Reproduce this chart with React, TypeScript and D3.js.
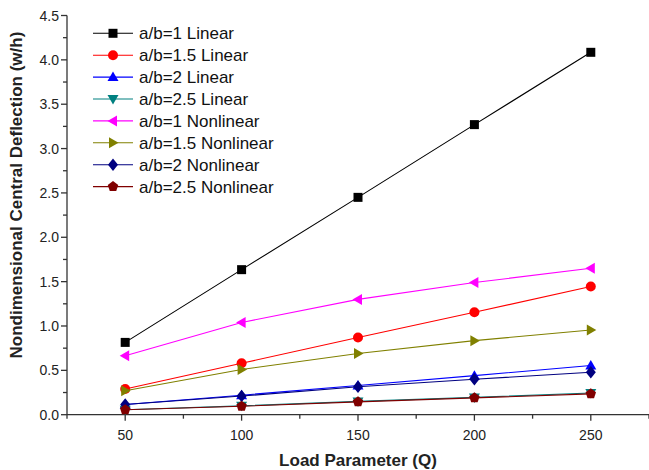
import React, { useEffect, useRef } from "react";
import * as d3 from "d3";

const loads = [50, 100, 150, 200, 250];
const seriesNames = [
  "a/b=1 Linear",
  "a/b=1.5 Linear",
  "a/b=2 Linear",
  "a/b=2.5 Linear",
  "a/b=1 Nonlinear",
  "a/b=1.5 Nonlinear",
  "a/b=2 Nonlinear",
  "a/b=2.5 Nonlinear",
];
const ab1Linear = [0.815, 1.635, 2.45, 3.27, 4.085];
const ab15Linear = [0.29, 0.58, 0.87, 1.155, 1.445];
const ab2Linear = [0.115, 0.22, 0.33, 0.44, 0.555];
const ab25Linear = [0.055, 0.1, 0.15, 0.195, 0.245];
const ab1Nonlinear = [0.665, 1.04, 1.3, 1.49, 1.65];
const ab15Nonlinear = [0.27, 0.51, 0.69, 0.835, 0.955];
const ab2Nonlinear = [0.115, 0.21, 0.315, 0.4, 0.478];
const ab25Nonlinear = [0.055, 0.095, 0.145, 0.19, 0.235];
const colors = ["#000000", "#ff0000", "#0000ff", "#008080", "#ff00ff", "#808000", "#000080", "#800000"];
const markers = ["square", "circle", "up", "down", "left", "right", "diamond", "pentagon"];
const yTicks = [0, 0.5, 1, 1.5, 2, 2.5, 3, 3.5, 4, 4.5];

function markerPath(kind: string, s: number): string {
  const poly = (pts: number[][]) => "M" + pts.map((p) => p.join(",")).join("L") + "Z";
  switch (kind) {
    case "square":
      return poly([[-s * 0.9, -s * 0.9], [s * 0.9, -s * 0.9], [s * 0.9, s * 0.9], [-s * 0.9, s * 0.9]]);
    case "circle":
      return d3.symbol(d3.symbolCircle, Math.PI * s * s)()!;
    case "up":
      return poly([[0, -s * 1.1], [s * 1.1, s * 0.8], [-s * 1.1, s * 0.8]]);
    case "down":
      return poly([[0, s * 1.1], [s * 1.1, -s * 0.8], [-s * 1.1, -s * 0.8]]);
    case "left":
      return poly([[-s * 1.1, 0], [s * 0.8, -s * 1.1], [s * 0.8, s * 1.1]]);
    case "right":
      return poly([[s * 1.1, 0], [-s * 0.8, -s * 1.1], [-s * 0.8, s * 1.1]]);
    case "diamond":
      return poly([[0, -s * 1.25], [s * 1.0, 0], [0, s * 1.25], [-s * 1.0, 0]]);
    default: {
      const pts = d3.range(5).map((i) => {
        const a = -Math.PI / 2 + (i * 2 * Math.PI) / 5;
        return [s * 1.1 * Math.cos(a), s * 1.1 * Math.sin(a)];
      });
      return poly(pts);
    }
  }
}

export default function App() {
  const ref = useRef<SVGSVGElement>(null);

  useEffect(() => {
    const svg = d3.select(ref.current);
    svg.selectAll("*").remove();

    const width = 649;
    const height = 470;
    const margin = { top: 15.5, right: 0, bottom: 55.3, left: 67 };
    const font = "Arial, 'Liberation Sans', sans-serif";

    const x = d3.scaleLinear().domain([25, 275]).range([margin.left, width - margin.right]);
    const y = d3.scaleLinear().domain([0, 4.5]).range([height - margin.bottom, margin.top]);

    const allSeries = [ab1Linear, ab15Linear, ab2Linear, ab25Linear, ab1Nonlinear, ab15Nonlinear, ab2Nonlinear, ab25Nonlinear];

    // axes
    const xAxis = svg.append("g").attr("transform", `translate(0,${y(0)})`);
    xAxis.append("line").attr("x1", x(25)).attr("x2", x(275)).attr("stroke", "#333").attr("stroke-width", 1.3);
    d3.range(25, 276, 25).forEach((v) => {
      const major = v % 50 === 0;
      xAxis.append("line").attr("x1", x(v)).attr("x2", x(v)).attr("y1", 0).attr("y2", major ? 6 : 4)
        .attr("stroke", "#333").attr("stroke-width", 1.3);
    });
    loads.forEach((v) => {
      xAxis.append("text").attr("x", x(v)).attr("y", 25).attr("text-anchor", "middle")
        .attr("font-family", font).attr("font-size", 14).attr("fill", "#222").text(v);
    });

    const yAxis = svg.append("g").attr("transform", `translate(${x(25)},0)`);
    yAxis.append("line").attr("y1", y(0)).attr("y2", y(4.5)).attr("stroke", "#333").attr("stroke-width", 1.3);
    d3.range(0, 4.51, 0.25).forEach((v) => {
      const major = Math.abs(v * 2 - Math.round(v * 2)) < 1e-6;
      yAxis.append("line").attr("x1", 0).attr("x2", major ? -6 : -4).attr("y1", y(v)).attr("y2", y(v))
        .attr("stroke", "#333").attr("stroke-width", 1.3);
    });
    yTicks.forEach((v) => {
      yAxis.append("text").attr("x", -8).attr("y", y(v)).attr("dy", "0.36em").attr("text-anchor", "end")
        .attr("font-family", font).attr("font-size", 14).attr("fill", "#222").text(v.toFixed(1));
    });

    svg.append("text").attr("x", (x(25) + x(275)) / 2).attr("y", 466).attr("text-anchor", "middle")
      .attr("font-family", font).attr("font-size", 17).attr("font-weight", "bold").attr("fill", "#222")
      .text("Load Parameter (Q)");
    svg.append("text").attr("transform", `translate(22,${(y(0) + y(4.5)) / 2 - 20}) rotate(-90)`)
      .attr("text-anchor", "middle").attr("font-family", font).attr("font-size", 17)
      .attr("font-weight", "bold").attr("fill", "#222")
      .text("Nondimensional Central Deflection (w/h)");

    const line = d3.line<number>().x((_, i) => x(loads[i])).y((d) => y(d));

    allSeries.forEach((vals, k) => {
      const g = svg.append("g");
      g.append("path").attr("d", line(vals)).attr("fill", "none").attr("stroke", colors[k]).attr("stroke-width", 1.1);
      g.selectAll("path.m").data(vals).join("path").attr("class", "m")
        .attr("transform", (d, i) => `translate(${x(loads[i])},${y(d)})`)
        .attr("d", markerPath(markers[k], 5)).attr("fill", colors[k]);
    });

    // legend
    const lg = svg.append("g");
    seriesNames.forEach((name, k) => {
      const ly = 33.3 + k * 21.9;
      lg.append("line").attr("x1", 93).attr("x2", 133).attr("y1", ly).attr("y2", ly)
        .attr("stroke", colors[k]).attr("stroke-width", 1.1);
      lg.append("path").attr("transform", `translate(113,${ly})`).attr("d", markerPath(markers[k], 5))
        .attr("fill", colors[k]);
      lg.append("text").attr("x", 139).attr("y", ly).attr("dy", "0.36em")
        .attr("font-family", font).attr("font-size", 17).attr("fill", "#111").text(name);
    });
  }, []);

  return (
    <div style={{ position: "absolute", left: 0, top: 0, width: 649, height: 470 }}>
      <svg ref={ref} width={649} height={470} style={{ display: "block", background: "#fff" }} />
    </div>
  );
}
